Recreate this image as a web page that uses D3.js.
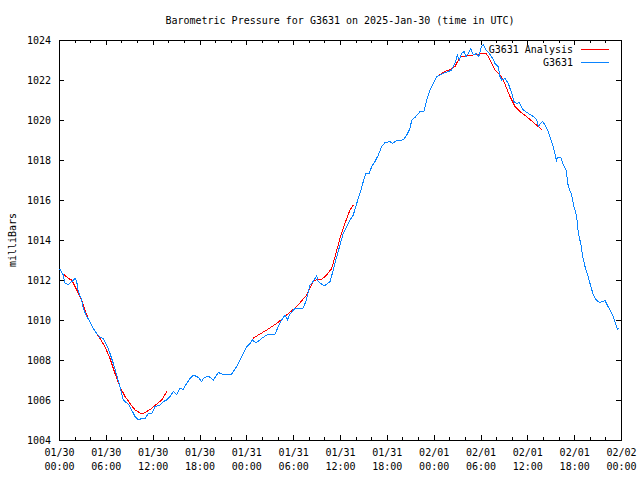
<!DOCTYPE html>
<html><head><meta charset="utf-8">
<script src="https://cdn.jsdelivr.net/npm/d3@7"></script>
<style>
body{margin:0;background:#fff}
svg{display:block}
text{font-family:"DejaVu Sans Mono","Liberation Mono",monospace;font-size:10px;fill:#000}
</style></head><body>
<svg id="chart" width="640" height="480"></svg>
<script>
// ---- data (hours since start, millibars) ----
const startTime = "2025-01-30T00:00:00Z";
const titleText = "Barometric Pressure for G3631 on 2025-Jan-30 (time in UTC)";
const yLabel = "milliBars";
const seriesNames = ["G3631 Analysis", "G3631"];
const seriesColors = ["#ff0000", "#0a84ff"];

const obsHours = [0.1,0.55,0.77,1.19,1.63,2.05,2.27,2.47,2.91,3.11,3.55,3.97,4.39,4.83,5.25,5.68,6.11,6.53,6.96,7.39,7.81,8.24,8.46,8.88,9.31,9.74,10.16,10.6,11.02,11.44,11.88,12.3,12.94,13.36,13.8,14.22,14.64,15.08,15.5,15.92,16.36,16.78,17.21,17.85,18.28,18.49,19.13,19.77,20.41,20.84,22.13,22.77,23.19,23.61,24.05,24.47,24.82,24.98,25.33,25.97,26.61,27.67,28.1,28.53,28.95,29.25,29.59,30.23,31.22,31.64,32.16,32.37,33.01,33.22,33.95,34.72,35.14,35.58,36.0,36.42,36.86,37.28,37.7,38.14,38.56,38.98,39.29,39.75,40.06,40.48,40.91,41.34,41.77,42.4,42.75,43.05,43.47,43.78,44.2,44.55,44.97,45.19,45.61,46.25,46.76,47.11,47.53,47.95,48.39,48.81,49.23,49.87,50.31,50.51,50.73,51.03,51.28,51.59,51.89,52.14,52.44,52.74,53.08,53.51,53.77,54.15,54.36,54.7,55.13,55.56,55.86,56.28,56.5,56.72,57.14,57.56,58.0,58.29,58.64,58.97,59.48,60.12,60.77,61.2,61.41,61.53,61.97,62.26,62.69,63.12,63.42,63.67,63.76,63.84,64.27,64.61,64.95,65.25,65.68,65.98,66.32,66.53,66.84,67.09,67.39,67.68,68.03,68.45,68.89,69.31,69.95,70.24,70.59,71.01,71.23,71.53,71.78];
const obsPressure = [1012.55,1012.25,1011.83,1011.78,1011.92,1012.08,1011.92,1011.42,1011.0,1010.58,1010.17,1009.92,1009.58,1009.33,1009.13,1009.08,1008.75,1008.33,1007.83,1007.25,1006.67,1006.0,1005.92,1005.8,1005.5,1005.17,1005.0,1005.08,1005.08,1005.33,1005.33,1005.67,1005.75,1005.92,1006.0,1006.17,1006.42,1006.28,1006.58,1006.53,1006.83,1007.08,1007.25,1007.13,1006.92,1007.08,1007.2,1007.0,1007.38,1007.3,1007.3,1007.67,1008.0,1008.33,1008.67,1008.83,1009.03,1008.92,1008.88,1009.08,1009.25,1009.3,1009.67,1010.0,1010.25,1010.0,1010.3,1010.58,1010.58,1010.92,1011.75,1011.83,1012.2,1011.92,1011.7,1011.92,1012.5,1013.17,1013.75,1014.33,1014.67,1015.0,1015.25,1015.83,1016.33,1016.92,1017.33,1017.33,1017.67,1017.92,1018.25,1018.67,1018.87,1018.92,1018.83,1018.92,1019.0,1018.95,1019.05,1019.25,1019.58,1020.0,1020.13,1020.42,1020.45,1021.0,1021.5,1021.83,1022.17,1022.25,1022.33,1022.42,1022.5,1022.67,1022.83,1023.25,1023.0,1023.33,1023.42,1023.17,1023.33,1023.58,1023.25,1023.33,1023.17,1023.7,1023.75,1023.5,1023.33,1023.08,1022.83,1022.67,1022.17,1022.0,1022.08,1021.83,1021.33,1020.92,1020.83,1020.87,1020.5,1020.33,1020.17,1020.0,1019.67,1019.75,1019.92,1019.75,1019.42,1018.92,1018.5,1018.08,1017.92,1018.13,1018.13,1017.75,1017.5,1016.67,1016.25,1015.67,1015.17,1014.33,1013.83,1013.17,1012.67,1012.33,1011.83,1011.25,1010.97,1010.88,1010.97,1010.75,1010.5,1010.17,1009.92,1009.53,1009.58];

// analysis: three runs, separated by null
const anaHours = [0.55,1.19,1.63,2.27,2.91,3.55,4.39,5.25,5.89,6.53,7.17,7.81,8.46,9.1,9.74,10.6,11.24,11.88,12.52,13.16,13.8,
  null,
  24.82,25.33,26.61,27.89,29.17,30.45,31.73,32.58,33.01,33.65,34.3,34.94,35.36,36.0,36.42,36.86,37.28,37.7,
  null,
  48.72,49.23,50.09,50.73,51.16,51.59,52.23,53.08,53.94,54.7,55.0,55.43,55.86,56.5,56.92,57.36,57.78,58.42,59.06,59.92,60.77,61.41,61.84];
const anaPressure = [1012.3,1012.08,1012.0,1011.5,1011.0,1010.25,1009.58,1009.08,1008.67,1008.08,1007.33,1006.67,1006.17,1005.83,1005.5,1005.3,1005.42,1005.58,1005.8,1006.0,1006.42,
  null,
  1009.08,1009.2,1009.5,1009.83,1010.25,1010.67,1011.25,1011.92,1012.03,1012.03,1012.25,1012.58,1013.17,1014.08,1014.58,1015.08,1015.5,1015.75,
  null,
  1022.25,1022.38,1022.53,1022.67,1023.0,1023.17,1023.22,1023.25,1023.3,1023.33,1023.17,1022.83,1022.5,1022.25,1022.0,1021.58,1021.17,1020.67,1020.42,1020.17,1019.88,1019.67,1019.53];

const yTicks = [1004,1006,1008,1010,1012,1014,1016,1018,1020,1022,1024];
const xSpanHours = 72;

// ---- drawing ----
const t0 = new Date(startTime);
const toDate = h => new Date(t0.getTime() + h * 3600e3);
const L = 59, R = 621, T = 40, B = 440;

const svg = d3.select("#chart");
const x = d3.scaleUtc().domain([t0, toDate(xSpanHours)]).range([L, R]);
const y = d3.scaleLinear().domain([1004, 1024]).range([B, T]);

const majors = d3.utcHour.every(6).range(t0, toDate(xSpanHours + 0.01));
const minors = d3.utcHour.every(2).range(t0, toDate(xSpanHours + 0.01)).filter(d => d.getUTCHours() % 6 !== 0);

function strip(g){ g.select(".domain").remove(); g.selectAll("line").attr("stroke","#000").attr("shape-rendering","crispEdges"); }

// bottom major with labels
const gB = svg.append("g").attr("transform", `translate(0,${B})`)
  .call(d3.axisBottom(x).tickValues(majors).tickSizeInner(-5).tickSizeOuter(0).tickPadding(9).tickFormat(d3.utcFormat("%m/%d")))
  .call(strip);
gB.selectAll("text").attr("font-family", null).attr("font-size", null).attr("fill", "#000")
  .each(function(d){
    const t = d3.select(this).text(null);
    t.append("tspan").attr("x", 0).text(d3.utcFormat("%m/%d")(d));
    t.append("tspan").attr("x", 0).attr("dy", 14).text(d3.utcFormat("%H:%M")(d));
  });
svg.append("g").attr("transform", `translate(0,${B})`)
  .call(d3.axisBottom(x).tickValues(minors).tickSizeInner(-3).tickSizeOuter(0).tickFormat(""))
  .call(strip);
// top mirror
svg.append("g").attr("transform", `translate(0,${T})`)
  .call(d3.axisTop(x).tickValues(majors).tickSizeInner(-5).tickSizeOuter(0).tickFormat(""))
  .call(strip);
svg.append("g").attr("transform", `translate(0,${T})`)
  .call(d3.axisTop(x).tickValues(minors).tickSizeInner(-3).tickSizeOuter(0).tickFormat(""))
  .call(strip);
// left with labels
const gL = svg.append("g").attr("transform", `translate(${L},0)`)
  .call(d3.axisLeft(y).tickValues(yTicks).tickSizeInner(-5).tickSizeOuter(0).tickPadding(8).tickFormat(d3.format("d")))
  .call(strip);
gL.selectAll("text").attr("font-family", null).attr("font-size", null).attr("fill", "#000");
// right mirror
svg.append("g").attr("transform", `translate(${R},0)`)
  .call(d3.axisRight(y).tickValues(yTicks).tickSizeInner(-5).tickSizeOuter(0).tickFormat(""))
  .call(strip);

// border
svg.append("rect").attr("x", L + 0.5).attr("y", T + 0.5).attr("width", R - L).attr("height", B - T)
  .attr("fill", "none").attr("stroke", "#000").attr("shape-rendering", "crispEdges");

// lines
const line = d3.line().defined(d => d[0] != null && d[1] != null).x(d => x(toDate(d[0]))).y(d => y(d[1]));
const anaData = anaHours.map((h, i) => [h, anaPressure[i]]);
const obsData = obsHours.map((h, i) => [h, obsPressure[i]]);
svg.append("path").datum(anaData).attr("d", line).attr("fill", "none").attr("stroke", seriesColors[0]).attr("stroke-width", 1).attr("shape-rendering", "crispEdges");
svg.append("path").datum(obsData).attr("d", line).attr("fill", "none").attr("stroke", seriesColors[1]).attr("stroke-width", 1).attr("shape-rendering", "crispEdges");

// title & y label
svg.append("text").attr("x", (L + R) / 2).attr("y", 20).attr("dy", "0.35em").attr("text-anchor", "middle").text(titleText);
svg.append("text").attr("transform", `translate(12,${(T + B) / 2}) rotate(-90)`).attr("dy", "0.35em").attr("text-anchor", "middle").text(yLabel);

// legend
const legY = [49, 62];
seriesNames.forEach((n, i) => {
  svg.append("text").attr("x", 573).attr("y", legY[i]).attr("dy", "0.35em").attr("text-anchor", "end").text(n);
  svg.append("line").attr("x1", 581).attr("x2", 609).attr("y1", legY[i] + 0.5).attr("y2", legY[i] + 0.5)
    .attr("stroke", seriesColors[i]).attr("shape-rendering", "crispEdges");
});
</script>
</body></html>
